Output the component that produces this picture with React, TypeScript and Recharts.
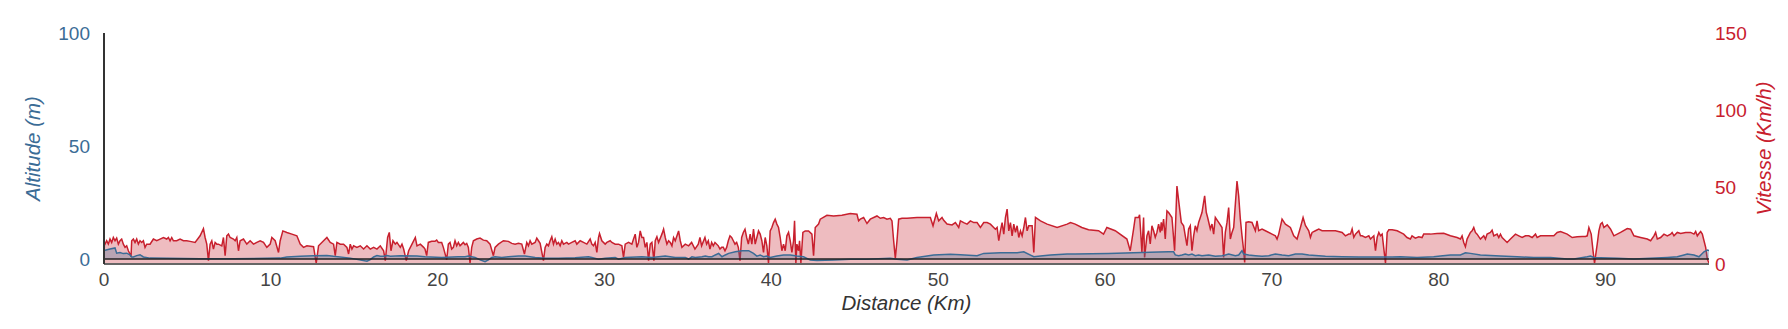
import React from 'react';
import { ComposedChart, Area, XAxis, YAxis, ReferenceLine } from 'recharts';

const distanceTicks = [0, 10, 20, 30, 40, 50, 60, 70, 80, 90];
const altitudeTicks = [0, 50, 100];
const vitesseTicks = [0, 50, 100, 150];

// [distance km, vitesse km/h]
const vitessePoints: [number, number][] = [
  [0, 0], [0.02, 12.0], [0.06, 12.9], [0.16, 15.1], [0.26, 12.9], [0.36, 16.2], [0.46, 14.0], [0.56, 17.2], [0.66, 15.1], [0.76, 16.8],
  [0.86, 12.9], [0.96, 15.1], [1.06, 16.2], [1.16, 12.9], [1.26, 10.8], [1.36, 11.8], [1.46, 8.6], [1.56, 6.5], [1.62, 4.7], [1.66, 15.1],
  [1.76, 16.2], [1.86, 14.0], [1.96, 16.2], [2.06, 12.9], [2.16, 15.1], [2.26, 14.0], [2.36, 15.1], [2.46, 10.8], [2.56, 12.9], [2.76, 12.9],
  [2.96, 16.2], [3.16, 15.1], [3.36, 16.2], [3.56, 17.2], [3.76, 16.2], [3.86, 17.2], [3.96, 15.1], [4.06, 17.2], [4.16, 15.1], [4.36, 15.1],
  [4.56, 16.2], [4.76, 15.1], [4.96, 15.1], [5.16, 14.7], [5.46, 14.0], [5.76, 18.3], [5.96, 23.0], [6.06, 17.2], [6.16, 12.9], [6.26, 2.2],
  [6.36, 12.9], [6.46, 15.1], [6.56, 9.7], [6.66, 14.0], [6.76, 12.9], [6.86, 12.9], [7.06, 11.8], [7.16, 17.2], [7.26, 5.4], [7.36, 18.3],
  [7.46, 19.4], [7.56, 17.2], [7.76, 16.2], [7.86, 15.1], [7.96, 17.2], [8.06, 8.6], [8.16, 15.1], [8.36, 16.2], [8.56, 12.9], [8.76, 15.1],
  [8.96, 12.9], [9.16, 14.0], [9.36, 15.1], [9.56, 14.0], [9.76, 10.8], [9.96, 12.9], [10.06, 17.2], [10.26, 15.1], [10.46, 7.5], [10.56, 15.1],
  [10.72, 21.5], [10.96, 20.5], [11.26, 19.4], [11.56, 18.3], [11.76, 12.9], [11.96, 10.8], [12.16, 11.8], [12.56, 11.2], [12.72, 0.5], [12.86, 11.8],
  [13.16, 15.1], [13.36, 17.2], [13.56, 14.0], [13.76, 12.9], [13.86, 5.4], [13.96, 14.0], [14.16, 12.9], [14.36, 12.9], [14.56, 10.8], [14.66, 6.5],
  [14.76, 12.9], [14.86, 9.7], [14.96, 11.8], [15.16, 10.8], [15.36, 11.8], [15.56, 9.7], [15.76, 11.8], [15.96, 9.7], [16.16, 10.8], [16.36, 9.7],
  [16.56, 11.8], [16.76, 8.6], [16.86, 2.2], [17.0, 17.2], [17.1, 20.5], [17.2, 8.6], [17.32, 15.1], [17.46, 12.9], [17.56, 14.0], [17.76, 10.8],
  [17.86, 12.9], [17.96, 9.7], [18.12, 2.2], [18.26, 8.6], [18.46, 12.9], [18.66, 17.2], [18.76, 11.8], [18.96, 12.9], [19.16, 10.8],
  [19.24, 9.7], [19.34, 5.4], [19.44, 14.0], [19.64, 14.7], [19.84, 14.7], [19.94, 15.5], [20.04, 14.0], [20.24, 14.0], [20.34, 10.8], [20.54, 2.8],
  [20.64, 12.9], [20.74, 14.0], [20.84, 9.7], [20.94, 10.8], [21.04, 15.1], [21.14, 11.8], [21.24, 14.0], [21.34, 11.8], [21.44, 12.9], [21.54, 14.0],
  [21.64, 12.5], [21.74, 13.4], [21.84, 10.8], [21.94, 0.6], [22.04, 10.8], [22.14, 15.1], [22.34, 16.2], [22.54, 16.8], [22.74, 15.5], [22.94, 15.1],
  [23.14, 12.9], [23.34, 5.4], [23.44, 10.8], [23.64, 12.9], [23.94, 15.1], [24.24, 14.7], [24.44, 13.4], [24.64, 12.9], [24.84, 13.4], [25.04, 12.9],
  [25.2, 6.5], [25.34, 14.0], [25.44, 11.8], [25.54, 15.1], [25.64, 12.9], [25.84, 14.0], [25.94, 16.8], [26.04, 15.1], [26.14, 13.4], [26.34, 2.2],
  [26.44, 10.8], [26.54, 12.9], [26.64, 11.8], [26.74, 15.1], [26.84, 17.7], [26.94, 12.9], [27.04, 16.2], [27.14, 12.9], [27.24, 14.0], [27.34, 11.8],
  [27.44, 15.1], [27.54, 12.9], [27.74, 14.0], [27.84, 12.9], [28.04, 14.0], [28.24, 15.1], [28.34, 12.9], [28.54, 15.1], [28.74, 14.0], [28.94, 12.9],
  [29.14, 16.2], [29.24, 12.9], [29.34, 11.8], [29.44, 14.0], [29.54, 7.5], [29.64, 17.2], [29.7, 19.8], [29.84, 15.1], [30.04, 12.9], [30.14, 14.0],
  [30.34, 15.1], [30.44, 14.0], [30.64, 12.9], [30.84, 12.9], [31.04, 11.8], [31.14, 4.3], [31.24, 12.9], [31.44, 14.0], [31.64, 12.9], [31.74, 16.2],
  [31.84, 19.4], [31.94, 10.8], [32.04, 14.0], [32.14, 21.5], [32.24, 17.2], [32.34, 17.2], [32.44, 10.8], [32.54, 14.0], [32.64, 2.2], [32.74, 12.9],
  [32.84, 14.0], [32.96, 2.2], [33.04, 15.1], [33.14, 17.7], [33.24, 14.0], [33.44, 19.4], [33.54, 22.6], [33.64, 17.2], [33.74, 12.9], [33.84, 15.1],
  [33.94, 14.0], [34.04, 11.8], [34.14, 17.2], [34.24, 15.1], [34.44, 21.5], [34.54, 15.1], [34.64, 10.8], [34.84, 12.9], [35.04, 11.8], [35.22, 14.0],
  [35.42, 9.7], [35.62, 12.9], [35.72, 17.2], [35.82, 11.8], [36.02, 17.2], [36.12, 12.9], [36.22, 15.1], [36.32, 9.7], [36.42, 14.0], [36.52, 11.8],
  [36.62, 14.0], [36.82, 11.8], [36.92, 9.7], [37.02, 10.8], [37.12, 10.8], [37.22, 8.6], [37.32, 10.8], [37.42, 15.1], [37.52, 18.3], [37.62, 17.2],
  [37.72, 15.1], [37.82, 12.9], [37.92, 14.0], [38.02, 10.8], [38.12, 2.2], [38.22, 17.2], [38.32, 20.5], [38.42, 22.6], [38.52, 17.2], [38.62, 12.9],
  [38.73, 19.4], [38.83, 12.9], [38.93, 22.6], [39.03, 12.9], [39.13, 17.2], [39.23, 21.5], [39.33, 19.4], [39.43, 15.1], [39.53, 7.5], [39.63, 17.2],
  [39.73, 11.8], [39.83, 0.6], [39.93, 21.5], [40.03, 23.7], [40.13, 26.9], [40.23, 29.1], [40.33, 25.9], [40.43, 23.7], [40.53, 17.2], [40.63, 8.6],
  [40.73, 12.9], [40.83, 8.6], [40.93, 18.3], [41.03, 20.5], [41.13, 15.1], [41.23, 7.5], [41.33, 15.1], [41.39, 28.0], [41.47, 0.6], [41.53, 12.9],
  [41.63, 8.6], [41.69, 15.1], [41.77, 0.6], [41.89, 20.5], [42.03, 21.5], [42.23, 21.5], [42.43, 19.4], [42.53, 5.4], [42.63, 23.7], [42.83, 25.9],
  [42.93, 29.1], [43.33, 31.6], [43.73, 31.2], [44.23, 31.6], [44.73, 32.8], [45.13, 32.3], [45.23, 28.0], [45.33, 29.1], [45.53, 30.2], [45.73, 26.3],
  [45.93, 29.1], [46.33, 31.2], [46.53, 29.7], [46.73, 30.2], [46.93, 29.1], [47.13, 29.7], [47.23, 28.0], [47.33, 15.1], [47.43, 3.7], [47.53, 15.1],
  [47.63, 29.1], [47.83, 29.7], [48.13, 29.7], [48.73, 30.2], [49.53, 30.2], [49.69, 24.8], [49.89, 32.8], [50.03, 28.0], [50.23, 30.2], [50.33, 28.4],
  [50.53, 25.9], [50.83, 25.4], [51.03, 26.9], [51.23, 23.7], [51.33, 28.0], [51.53, 26.9], [51.73, 25.9], [51.93, 28.0], [52.13, 26.9], [52.33, 26.9],
  [52.53, 23.7], [52.73, 26.9], [52.93, 26.9], [53.13, 25.9], [53.43, 22.6], [53.53, 23.7], [53.63, 15.1], [53.73, 21.5], [53.83, 26.9], [53.93, 19.4],
  [54.03, 30.2], [54.13, 35.6], [54.23, 21.5], [54.33, 26.9], [54.43, 18.3], [54.53, 25.9], [54.63, 20.5], [54.73, 24.8], [54.83, 17.2], [54.93, 21.5],
  [55.03, 18.3], [55.13, 23.7], [55.23, 30.2], [55.33, 21.5], [55.43, 24.8], [55.63, 24.8], [55.73, 7.5], [55.83, 30.2], [56.13, 28.0], [56.53, 25.9],
  [57.13, 23.7], [57.73, 25.9], [57.93, 26.9],
  [58.21, 25.9], [58.61, 23.7], [59.01, 22.2], [59.61, 21.6], [59.91, 19.4], [60.11, 23.7], [60.61, 21.6], [61.31, 16.2], [61.51, 8.6], [61.71, 22.7],
  [61.81, 30.2], [62.01, 30.2], [62.07, 32.0], [62.15, 18.3], [62.21, 7.5], [62.31, 30.2], [62.37, 4.3], [62.51, 18.3], [62.61, 21.6], [62.71, 13.0],
  [62.81, 24.8], [62.91, 21.6], [63.01, 17.3], [63.11, 20.5], [63.21, 25.9], [63.31, 20.5], [63.37, 27.0], [63.41, 21.6], [63.51, 29.1], [63.61, 16.2],
  [63.71, 34.5], [63.81, 33.4], [64.01, 30.2], [64.17, 8.6], [64.31, 50.6], [64.45, 37.7], [64.57, 27.0], [64.71, 24.8], [64.81, 18.3], [64.91, 11.9],
  [65.01, 22.7], [65.11, 24.8], [65.21, 8.6], [65.31, 18.3], [65.41, 24.8], [65.51, 21.6], [65.61, 27.0], [65.71, 30.2], [65.81, 33.4], [65.97, 44.2],
  [66.07, 33.4], [66.15, 30.2], [66.31, 22.7], [66.41, 25.9], [66.51, 19.4], [66.61, 30.2], [66.81, 27.0], [67.01, 23.7], [67.11, 4.3], [67.21, 20.5],
  [67.31, 27.0], [67.41, 36.6], [67.51, 16.2], [67.61, 20.5], [67.71, 23.7], [67.81, 38.9], [67.91, 53.9], [68.01, 44.2], [68.11, 29.1], [68.21, 18.3],
  [68.31, 8.6], [68.37, 1.0], [68.45, 27.0], [68.61, 27.4], [68.81, 27.0], [69.01, 21.6], [69.11, 28.0], [69.21, 21.6], [69.41, 22.7], [69.61, 21.6],
  [70.01, 19.4], [70.21, 18.3], [70.31, 16.2], [70.41, 19.4], [70.61, 29.1], [70.81, 25.9], [71.11, 23.7], [71.31, 18.3], [71.51, 16.2], [71.71, 23.7],
  [71.87, 30.2], [72.01, 25.0], [72.21, 21.6], [72.31, 17.3], [72.41, 20.5], [72.61, 21.6], [72.81, 22.7], [73.01, 21.6], [73.41, 21.6], [73.81, 21.6],
  [74.21, 20.5], [74.41, 18.3], [74.61, 19.4], [74.71, 19.4], [74.81, 22.7], [74.91, 17.3], [75.01, 19.4], [75.21, 21.6], [75.31, 18.3], [75.41, 18.3],
  [75.61, 17.3], [75.81, 18.3], [75.91, 16.2], [76.11, 18.3], [76.21, 8.6], [76.31, 17.3], [76.41, 20.5], [76.51, 18.3], [76.61, 19.4], [76.81, 0.5],
  [76.91, 20.5], [77.01, 22.2], [77.21, 22.2], [77.51, 21.6],
  [77.70, 20.5], [77.90, 19.4], [78.10, 17.2], [78.30, 16.2], [78.40, 18.3], [78.60, 16.8], [78.80, 17.7], [79.00, 17.2], [79.10, 19.4], [79.50, 19.4],
  [79.90, 19.8], [80.30, 20.0], [80.70, 18.3], [81.10, 17.2], [81.30, 16.2], [81.40, 18.3], [81.50, 14.0], [81.60, 11.2], [81.70, 16.2], [81.90, 20.5],
  [82.00, 21.5], [82.10, 23.7], [82.20, 20.5], [82.30, 19.4], [82.50, 16.2], [82.70, 18.3], [82.80, 16.2], [82.90, 19.4], [83.10, 20.5], [83.20, 22.0],
  [83.30, 18.3], [83.50, 19.4], [83.60, 17.2], [83.70, 19.4], [83.80, 17.2], [84.10, 14.0], [84.30, 16.2], [84.60, 19.4], [84.80, 18.3], [85.00, 17.2],
  [85.20, 18.3], [85.40, 18.3], [85.60, 17.2], [85.80, 19.4], [85.90, 17.2], [86.10, 18.3], [86.50, 18.3], [86.90, 18.3], [87.10, 20.5], [87.30, 21.1],
  [87.70, 19.4], [88.00, 17.2], [88.30, 17.7], [88.60, 17.9], [88.80, 17.9], [88.90, 18.3], [89.00, 23.7], [89.14, 19.4], [89.26, 7.5], [89.34, 0.6],
  [89.50, 12.9], [89.60, 21.5], [89.70, 25.9], [89.80, 26.9], [89.90, 23.7], [90.10, 25.4], [90.30, 22.6], [90.50, 18.3], [90.90, 20.5], [91.30, 23.0],
  [91.50, 22.6], [91.70, 18.3], [92.10, 17.2], [92.50, 16.2], [92.70, 15.1], [92.90, 18.3], [93.00, 20.5], [93.10, 16.2], [93.30, 17.2], [93.50, 19.4],
  [93.70, 18.3], [93.90, 19.4], [93.99, 20.5], [94.10, 18.3], [94.30, 20.5], [94.50, 19.8], [94.80, 20.5], [95.10, 20.5], [95.30, 19.4], [95.40, 21.1],
  [95.50, 18.3], [95.60, 19.8], [95.70, 21.1], [95.80, 19.4], [95.90, 15.1], [96.00, 10.8], [96.10, 3.2], [96.20, 0.6],
];

// [distance km, altitude m]
const altitudePoints: [number, number][] = [
  [0, 3.8], [0.36, 4.4], [0.66, 4.9], [0.76, 2.6], [0.96, 2.9], [1.16, 2.4], [1.36, 2.6], [1.56, 1.9], [1.66, 0.9], [1.76, 0.9],
  [1.96, 1.5], [2.16, 1.9], [2.36, 0.9], [2.76, 0.4], [3.76, 0.3], [5.76, 0.1], [7.76, 0.1], [10.56, 0.4], [10.96, 0.9], [11.76, 1.2],
  [12.56, 1.5], [13.36, 1.6], [13.76, 1.2], [14.76, 0.4], [15.76, -1.0], [15.96, -0.3], [16.16, 0.9], [16.36, 1.5], [16.56, 1.2], [16.76, 1.2],
  [16.96, 1.5], [17.16, 1.2], [17.76, 1.5], [18.76, 1.3],
  [19.24, 1.0], [20.24, 0.7], [21.24, 1.0], [21.64, 1.0], [21.84, 1.3], [22.24, 0.7], [22.54, -0.4], [22.84, -1.2], [23.04, -0.4], [23.24, 0.7],
  [23.44, 1.0], [23.84, 0.7], [24.24, 1.0], [24.84, 1.3], [25.24, 1.3], [25.84, 0.7], [26.44, 0.3], [27.24, 0.3], [28.24, 0.6], [29.04, 1.0],
  [29.24, 0.7], [29.64, -0.1], [30.04, 0.3], [30.64, 0.7], [30.84, -0.1], [31.24, 0.7], [32.24, 1.0], [32.84, 0.7], [33.24, 1.0], [33.64, 1.3],
  [34.24, 0.7], [34.84, 0.7], [35.04, 0], [35.24, 1.0], [35.44, 0.7], [35.84, 1.0], [36.04, 1.3], [36.24, 1.0], [36.44, 1.0], [36.64, 1.8],
  [36.84, 2.5], [37.04, 1.0], [37.24, 1.8], [37.44, 2.5], [37.84, 3.2], [38.24, 3.7], [38.64, 3.7],
  [38.93, 2.5], [39.13, 1.3], [39.33, 1.8], [39.53, 1.0], [39.73, 1.3], [39.93, 0.7], [40.33, 1.3], [40.73, 1.8], [41.13, 1.8], [41.53, 1.3],
  [41.93, 1.0], [42.13, 0.3], [42.33, -0.4], [42.73, -0.6], [43.73, -0.4], [44.73, -0.1], [45.73, -0.1], [47.13, 0.3], [47.53, -0.1], [48.13, -0.4],
  [48.73, 0.7], [49.73, 1.8], [50.73, 2.1], [51.33, 1.9], [52.33, 1.5], [52.73, 2.5], [53.73, 2.8], [54.73, 2.8], [55.13, 3.2], [55.73, 1.0],
  [56.13, 1.3], [56.73, 1.8], [57.73, 2.2],
  [58.21, 2.2], [60.21, 2.5], [62.21, 2.9], [63.21, 3.1], [63.81, 3.2], [64.11, 3.2], [64.21, 1.8], [64.41, 1.5], [64.61, 1.8], [64.81, 2.2],
  [65.01, 1.8], [65.21, 2.2], [65.41, 1.5], [65.61, 1.8], [65.81, 1.5], [66.21, 1.8], [66.61, 1.2], [67.01, 1.5], [67.21, 1.8], [67.41, 2.2],
  [67.81, 1.5], [68.01, 1.8], [68.21, 3.7], [68.31, 2.2], [68.61, 1.8], [69.01, 1.5], [69.41, 1.2], [69.81, 1.5], [70.21, 2.2], [70.61, 1.8],
  [71.01, 1.5], [71.41, 2.2], [71.81, 2.2], [72.21, 1.8], [73.21, 1.2], [74.21, 1.0], [75.21, 0.9], [76.21, 0.9], [77.21, 0.9],
  [77.70, 1.0], [78.70, 0.7], [79.70, 1.0], [80.10, 1.3], [80.70, 1.8], [81.30, 1.8], [81.60, 2.8], [81.90, 2.5], [82.50, 1.8], [83.70, 1.3],
  [84.70, 1.0], [85.70, 0.7], [86.70, 0.7], [87.70, 0], [88.10, 0], [88.90, 1.0], [89.10, 1.3], [89.30, 0.7], [89.70, 0.6], [90.70, 0.3],
  [91.70, 0], [92.70, 0.3], [93.70, 0.7], [94.30, 1.0], [94.70, 1.8], [94.90, 2.2], [95.30, 1.8], [95.60, 1.0], [95.90, 3.2], [96.10, 4.0],
  [96.20, 3.7],
];

const RED = '#c8202e';
const BLUE = '#3b6c96';
const FONT = '"Liberation Sans", Arial, Helvetica, sans-serif';

const kmValues = Array.from(
  new Set([...vitessePoints.map((p) => p[0]), ...altitudePoints.map((p) => p[0])])
).sort((a, b) => a - b);
const vitesseMap = new Map(vitessePoints);
const altitudeMap = new Map(altitudePoints);
const chartData = kmValues.map((km) => ({
  km,
  vitesse: vitesseMap.has(km) ? vitesseMap.get(km) : null,
  altitude: altitudeMap.has(km) ? altitudeMap.get(km) : null,
}));

const AltitudeTitle = (props: any) => {
  const vb = props.viewBox ?? { x: 0, y: 33, width: 104, height: 231 };
  const x = vb.x + 40;
  const y = vb.y + vb.height / 2;
  return (
    <text x={x} y={y} transform={`rotate(-90 ${x} ${y})`} textAnchor="middle" fill={BLUE}
      fontStyle="italic" fontSize={20.5} fontFamily={FONT}>Altitude (m)</text>
  );
};

const VitesseTitle = (props: any) => {
  const vb = props.viewBox ?? { x: 1709, y: 33, width: 79, height: 231 };
  const x = vb.x + 62;
  const y = vb.y + vb.height / 2;
  return (
    <text x={x} y={y} transform={`rotate(-90 ${x} ${y})`} textAnchor="middle" fill={RED}
      fontStyle="italic" fontSize={20.5} fontFamily={FONT}>Vitesse (Km/h)</text>
  );
};

const DistanceTitle = (props: any) => {
  const vb = props.viewBox ?? { x: 104, y: 264, width: 1605, height: 65 };
  const x = vb.x + vb.width / 2;
  const y = vb.y + 46;
  return (
    <text x={x} y={y} textAnchor="middle" fill="#333333" fontStyle="italic" fontSize={20.5} fontFamily={FONT}>
      Distance (Km)
    </text>
  );
};

export default function App() {
  return (
    <div style={{ position: 'absolute', left: 0, top: 0, width: 1788, height: 329, background: '#ffffff' }}>
      <ComposedChart width={1788} height={329} data={chartData} margin={{ top: 33, right: 0, bottom: 0, left: 0 }}>
        <XAxis
          dataKey="km"
          type="number"
          domain={[0, 96.2]}
          ticks={distanceTicks}
          allowDataOverflow
          height={65}
          axisLine={{ stroke: '#666666', strokeWidth: 2 }}
          tickLine={false}
          tickMargin={3}
          tick={{ fill: '#444444', fontSize: 19, fontFamily: FONT }}
          label={DistanceTitle}
        />
        <YAxis
          yAxisId="altitude"
          orientation="left"
          width={104}
          domain={[-2.2, 100]}
          ticks={altitudeTicks}
          allowDataOverflow
          axisLine={{ stroke: '#333333', strokeWidth: 2 }}
          tickLine={false}
          tickMargin={8}
          tick={{ fill: BLUE, fontSize: 19, fontFamily: FONT }}
          label={AltitudeTitle}
        />
        <YAxis
          yAxisId="vitesse"
          orientation="right"
          width={79}
          domain={[0, 150]}
          ticks={vitesseTicks}
          allowDataOverflow
          axisLine={false}
          tickLine={false}
          tickMargin={0}
          tick={{ fill: RED, fontSize: 19, fontFamily: FONT }}
          label={VitesseTitle}
        />
        <Area
          yAxisId="vitesse"
          type="linear"
          dataKey="vitesse"
          stroke={RED}
          strokeWidth={1.5}
          fill={RED}
          fillOpacity={0.3}
          connectNulls
          dot={false}
          activeDot={false}
          isAnimationActive={false}
        />
        <ReferenceLine yAxisId="altitude" y={0} stroke="#222222" strokeWidth={1.5} />
        <Area
          yAxisId="altitude"
          type="linear"
          dataKey="altitude"
          stroke={BLUE}
          strokeWidth={1.5}
          fill={BLUE}
          fillOpacity={0.3}
          connectNulls
          dot={false}
          activeDot={false}
          isAnimationActive={false}
        />
      </ComposedChart>
    </div>
  );
}
